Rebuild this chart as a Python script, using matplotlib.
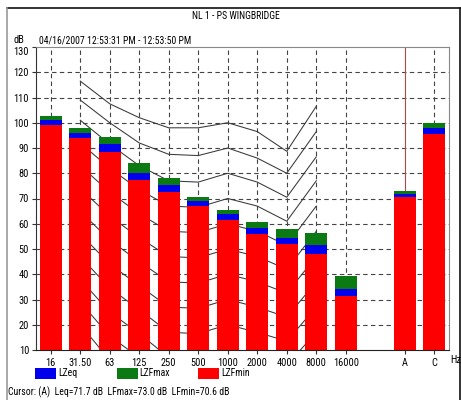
import matplotlib
matplotlib.use("Agg")
import matplotlib.pyplot as plt
from matplotlib.patches import Rectangle
from matplotlib.lines import Line2D

# band labels and levels (dB)
bands = ["16", "31.50", "63", "125", "250", "500", "1000", "2000", "4000", "8000", "16000", "A", "C"]
lzfmax = [102.5, 98.0, 94.5, 84.0, 78.0, 70.5, 65.5, 60.5, 58.0, 56.5, 39.5, 73.0, 100.0]
lzeq = [101.0, 96.0, 91.5, 80.0, 75.5, 69.0, 64.0, 58.5, 54.5, 51.5, 34.0, 71.7, 98.0]
lzfmin = [99.0, 94.0, 88.5, 77.5, 72.5, 67.0, 61.5, 56.0, 52.0, 48.0, 31.5, 70.6, 95.5]

# reference curves, drawn from 31.50 Hz to 8000 Hz
curve_bands = ["31.50", "63", "125", "250", "500", "1000", "2000", "4000", "8000"]
curves = [
    [116.5, 107.5, 102.0, 98.0, 98.0, 100.0, 96.5, 88.7, 106.5],
    [109.0, 100.0, 92.0, 87.5, 87.0, 90.0, 86.0, 80.0, 96.5],
    [101.0, 91.5, 83.0, 77.0, 76.5, 80.0, 76.5, 70.5, 86.5],
    [92.0, 82.0, 73.5, 67.0, 66.5, 70.0, 67.0, 61.0, 77.0],
    [83.0, 72.5, 64.0, 57.0, 56.5, 60.0, 57.0, 51.5, 67.0],
    [74.0, 63.0, 54.5, 47.0, 46.5, 50.0, 47.0, 42.0, 57.0],
    [65.0, 53.5, 45.0, 37.0, 36.5, 40.0, 37.0, 32.5, 47.0],
    [56.0, 44.0, 35.5, 27.0, 26.5, 30.0, 27.0, 23.0, 37.0],
    [47.0, 34.5, 26.0, 17.0, 16.5, 20.0, 17.0, 13.5, 27.0],
    [38.0, 25.0, 16.5, 7.0, 6.5, 10.0, 7.0, 4.0, 17.0],
    [29.0, 15.5, 7.0, -3.0, -3.5, 0.0, -3.0, -5.5, 7.0],
    [20.0, 6.0, -2.5, -13.0, -13.5, -10.0, -13.0, -15.0, -3.0],
]

legend_names = ["LZeq", "LZFmax", "LZFmin"]
c_eq, c_max, c_min = "#0000ee", "#0c7a12", "#ff0000"

plt.rcParams["font.family"] = ["Liberation Sans Narrow", "Roboto Condensed", "Archivo Narrow", "DejaVu Sans"]
FS = 7

W, H = 461, 400
fig = plt.figure(figsize=(W / 100, H / 100), dpi=100)
fig.patch.set_facecolor("white")

def fx(px):
    return px / W

def fy(py):
    return 1 - py / H

ax = fig.add_axes([fx(36), fy(350), fx(449 - 36), (350 - 47) / H])

# 16 Hz .. 16 kHz, one empty slot, then A and C
pos = list(range(11)) + [12, 13]
pos_of = dict(zip(bands, pos))

ax.set_xlim(-0.5, 13.5)
ax.set_ylim(10, 130)
ax.set_yticks(range(10, 131, 10))

grid_kw = dict(color="#444444", lw=0.8, ls=(0, (4, 3)), zorder=0.5)
for yv in range(20, 130, 10):
    ax.axhline(yv, **grid_kw)
for b in bands:
    if b == "A":
        ax.axvline(pos_of[b], color="#b04a4a", lw=0.8, zorder=0.5)
    else:
        ax.axvline(pos_of[b], **grid_kw)

cx = [pos_of[b] for b in curve_bands]
for c in curves:
    ax.plot(cx, c, color="#383838", lw=0.75, zorder=1)

w = 0.73
ax.bar(pos, lzfmax, width=w, color=c_max, zorder=2)
ax.bar(pos, lzeq, width=w, color=c_eq, zorder=2)
ax.bar(pos, lzfmin, width=w, color=c_min, zorder=2)

ax.set_xticks(pos)
ax.set_xticklabels(bands)
ax.tick_params(axis="both", labelsize=FS + 0.5, length=3, width=0.8, color="#333333", pad=2)
ax.tick_params(axis="x", pad=2.5)
# top label sits just under the frame edge, like the original
ax.get_yticklabels()[-1].set_verticalalignment("top")
for s in ["top", "right"]:
    ax.spines[s].set_color("#888888")
    ax.spines[s].set_linewidth(0.8)
ax.spines["left"].set_color("#333333")
ax.spines["bottom"].set_color("#222222")

# header texts
fig.text(fx(236), fy(16), "NL 1 - PS WINGBRIDGE", ha="center", va="center", fontsize=FS)
fig.text(fx(13), fy(40), "dB", ha="left", va="center", fontsize=FS + 0.5)
fig.text(fx(39), fy(40), "04/16/2007 12:53:31 PM - 12:53:50 PM", ha="left", va="center", fontsize=FS)
fig.text(fx(450), fy(360), "Hz", ha="left", va="center", fontsize=FS + 0.5)

# legend
for i, (name, col) in enumerate(zip(legend_names, [c_eq, c_max, c_min])):
    x0 = 35 + i * 81.5
    fig.add_artist(Rectangle((fx(x0), fy(379)), fx(21), 11 / H, facecolor=col,
                             edgecolor="none", transform=fig.transFigure))
    fig.text(fx(x0 + 23), fy(373), name, ha="left", va="center", fontsize=FS)

fig.text(fx(8), fy(392), "Cursor: (A)  Leq=71.7 dB  LFmax=73.0 dB  LFmin=70.6 dB",
         ha="left", va="center", fontsize=FS)

# outer frame
fig.add_artist(Line2D([fx(7), fx(460)], [fy(8), fy(8)], color="#111111", lw=1.2, transform=fig.transFigure))
fig.add_artist(Line2D([fx(7), fx(7)], [fy(8), fy(400)], color="#999999", lw=1.2, transform=fig.transFigure))
fig.add_artist(Line2D([fx(459.5), fx(459.5)], [fy(8), fy(400)], color="#111111", lw=1.2, transform=fig.transFigure))

fig.savefig("out.png", dpi=100)
plt.close(fig)
